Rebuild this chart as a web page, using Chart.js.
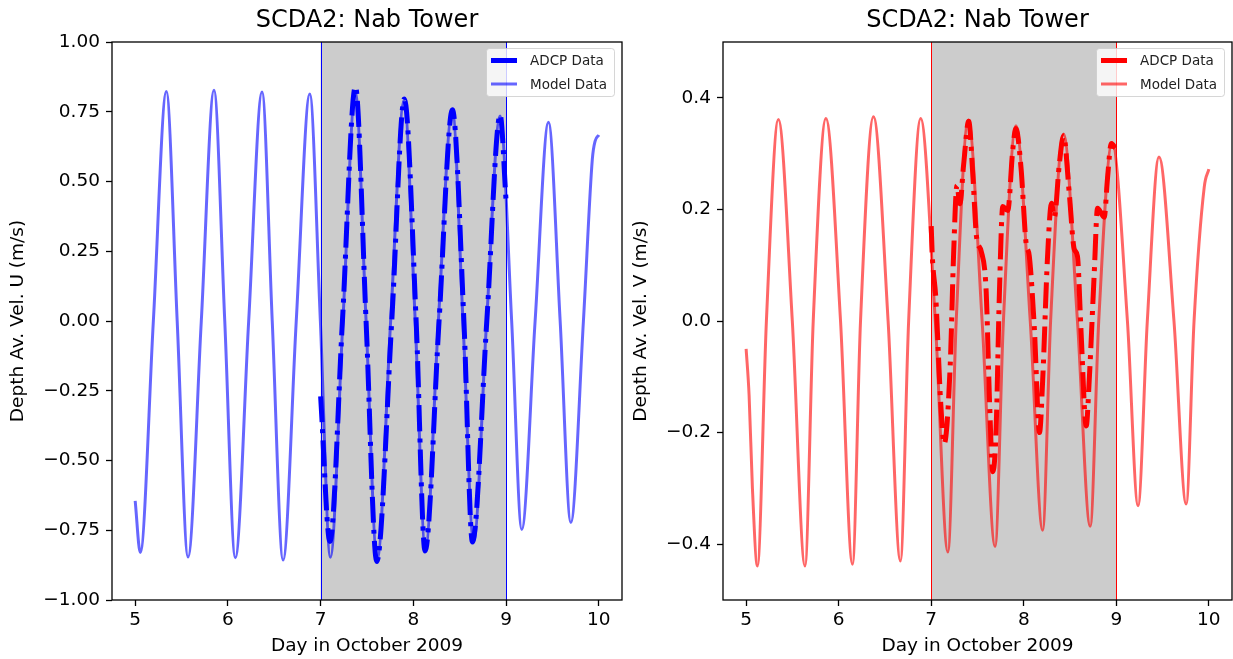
<!DOCTYPE html>
<html>
<head>
<meta charset="utf-8">
<script src="https://cdn.jsdelivr.net/npm/chart.js@4/dist/chart.umd.min.js"></script>
<style>
  html, body { margin: 0; padding: 0; background: #fff; }
  .panel { position: absolute; top: 0; height: 659px; }
  #left { left: 0; width: 625px; }
  #right { left: 625px; width: 608px; }
</style>
</head>
<body>
<div class="panel" id="left"><canvas id="chartU"></canvas></div>
<div class="panel" id="right"><canvas id="chartV"></canvas></div>
<script>
// ── Ticks and the ADCP window ──────────────────────────────────────
const dayTicks = [5, 6, 7, 8, 9, 10];
const velUTicks = [-1, -0.75, -0.5, -0.25, 0, 0.25, 0.5, 0.75, 1];
const velVTicks = [-0.4, -0.2, 0, 0.2, 0.4];
const adcpWindow = [7, 9];

// ── U component ────────────────────────────────────────────────────
const modelDayU = [5.00, 5.055, 5.196, 5.336, 5.453, 5.57, 5.713, 5.85, 5.966, 6.08, 6.224, 6.368, 6.478, 6.595, 6.737, 6.883, 6.997, 7.105, 7.24, 7.375, 7.49, 7.61, 7.755, 7.90, 8.02, 8.13, 8.27, 8.42, 8.535, 8.65, 8.79, 8.935, 9.06, 9.169, 9.313, 9.457, 9.583, 9.698, 9.834, 9.93, 9.96, 10.0];
const modelVelU = [-0.645, -0.83, 0, 0.823, 0, -0.846, 0, 0.827, 0, -0.849, 0, 0.821, 0, -0.857, 0, 0.814, 0, -0.847, 0, 0.82, 0, -0.855, 0, 0.79, 0, -0.815, 0, 0.755, 0, -0.79, 0, 0.735, 0, -0.747, 0, 0.712, 0, -0.722, 0, 0.58, 0.645, 0.667];

const adcpDayU = [7.00, 7.10, 7.235, 7.375, 7.49, 7.605, 7.767, 7.903, 8.03, 8.126, 8.277, 8.421, 8.545, 8.637, 8.792, 8.936, 9.00];
const adcpVelU = [-0.27, -0.79, 0, 0.84, 0, -0.862, 0, 0.796, 0, -0.824, 0, 0.757, 0, -0.792, 0, 0.738, 0.43];

// ── V component ────────────────────────────────────────────────────
const modelDayV = [5.00, 5.032, 5.068, 5.122, 5.219, 5.348, 5.499, 5.636, 5.725, 5.862, 6.02, 6.149, 6.236, 6.376, 6.534, 6.667, 6.756, 6.886, 7.044, 7.18, 7.27, 7.40, 7.55, 7.69, 7.78, 7.915, 8.07, 8.204, 8.29, 8.43, 8.58, 8.718, 8.81, 8.955, 9.12, 9.235, 9.335, 9.461, 9.623, 9.755, 9.84, 9.95, 10.0];
const modelVelV = [-0.05, -0.133, -0.30, -0.439, 0, 0.361, 0, -0.439, 0, 0.363, 0, -0.436, 0, 0.366, 0, -0.430, 0, 0.363, 0, -0.414, 0, 0.36, 0, -0.404, 0, 0.35, 0, -0.375, 0, 0.335, 0, -0.368, 0, 0.32, 0, -0.331, 0, 0.294, 0, -0.328, 0, 0.24, 0.272];

const adcpDayV = [7.00, 7.012, 7.05, 7.075, 7.10, 7.14, 7.206, 7.241, 7.278, 7.31, 7.35, 7.405, 7.45, 7.49, 7.54, 7.594, 7.629, 7.665, 7.70, 7.737, 7.773, 7.827, 7.881, 7.915, 7.97, 8.024, 8.06, 8.114, 8.17, 8.204, 8.257, 8.30, 8.33, 8.384, 8.43, 8.491, 8.545, 8.58, 8.617, 8.675, 8.707, 8.761, 8.797, 8.869, 8.905, 8.945, 8.99];
const adcpVelV = [0.17, 0.115, 0.04, -0.05, -0.14, -0.22, -0.076, 0.116, 0.243, 0.21, 0.28, 0.358, 0.26, 0.15, 0.125, 0.052, -0.139, -0.27, -0.2, 0.052, 0.205, 0.198, 0.307, 0.345, 0.275, 0.141, 0.116, -0.012, -0.2, -0.107, 0.116, 0.211, 0.186, 0.281, 0.332, 0.23, 0.129, 0.116, -0.012, -0.188, -0.107, 0.084, 0.202, 0.186, 0.256, 0.318, 0.31];

// ── Style ──────────────────────────────────────────────────────────
const FAMILY = "'DejaVu Sans', sans-serif";
const FONT_TICK = { family: FAMILY, size: 18.5 };
const FONT_LABEL = { family: FAMILY, size: 18.5 };
const FONT_TITLE = { family: FAMILY, size: 24, weight: 'normal', lineHeight: 1.2 };
const SHADE = '#cccccc';

Chart.defaults.font.family = FAMILY;

const toPoints = (xs, ys) => xs.map((x, i) => ({ x, y: ys[i] }));
const minusSign = s => s.replace('-', '\u2212');

/** Shaded ADCP window, frame and an in-axes legend (matplotlib look). */
const decor = lineColor => ({
    id: 'decor',
    beforeDatasetsDraw(chart) {
        const { ctx, chartArea: a, scales: { x } } = chart;
        const x0 = x.getPixelForValue(adcpWindow[0]);
        const x1 = x.getPixelForValue(adcpWindow[1]);
        ctx.save();
        ctx.fillStyle = SHADE;
        ctx.fillRect(x0, a.top, x1 - x0, a.height);
        ctx.strokeStyle = lineColor;
        ctx.lineWidth = 1;
        [x0, x1].forEach(px => {
            ctx.beginPath();
            ctx.moveTo(Math.round(px) + 0.5, a.top);
            ctx.lineTo(Math.round(px) + 0.5, a.bottom);
            ctx.stroke();
        });
        ctx.restore();
    },
    afterDatasetsDraw(chart) {
        const { ctx, chartArea: a } = chart;
        ctx.save();
        ctx.strokeStyle = '#000';
        ctx.lineWidth = 1.3;
        ctx.strokeRect(a.left, a.top, a.right - a.left, a.bottom - a.top);
        ctx.restore();
    },
    afterDraw(chart) {
        const { ctx, chartArea: a } = chart;
        const w = 128, h = 48;
        const bx = a.right - 8 - w, by = a.top + 6;
        ctx.save();
        ctx.beginPath();
        ctx.roundRect(bx + 0.5, by + 0.5, w, h, 3);
        ctx.fillStyle = 'rgba(255,255,255,0.8)';
        ctx.fill();
        ctx.strokeStyle = 'rgba(204,204,204,0.8)';
        ctx.lineWidth = 1;
        ctx.stroke();
        chart.data.datasets.forEach((ds, i) => {
            const cy = by + 12.5 + i * 23.5;
            ctx.beginPath();
            ctx.moveTo(bx + 5, cy);
            ctx.lineTo(bx + 31, cy);
            ctx.setLineDash([]);
            ctx.strokeStyle = ds.borderColor;
            ctx.lineWidth = ds.borderWidth;
            ctx.stroke();
            ctx.fillStyle = '#222';
            ctx.font = `13.5px ${FAMILY}`;
            ctx.textBaseline = 'middle';
            ctx.fillText(ds.label, bx + 44, cy + 1);
        });
        ctx.restore();
    },
});

function makeChart(canvasId, cfg) {
    return new Chart(document.getElementById(canvasId), {
        type: 'line',
        data: {
            datasets: [{
                label: 'ADCP Data',
                data: toPoints(cfg.adcpDay, cfg.adcpVel),
                borderColor: cfg.adcpColor,
                borderWidth: 5,
                borderDash: [26, 7, 4, 7],
                borderCapStyle: 'butt',
                cubicInterpolationMode: 'monotone',
                pointRadius: 0,
            }, {
                label: 'Model Data',
                data: toPoints(cfg.modelDay, cfg.modelVel),
                borderColor: cfg.modelColor,
                borderWidth: 3,
                cubicInterpolationMode: 'monotone',
                pointRadius: 0,
            }],
        },
        options: {
            responsive: true,
            maintainAspectRatio: false,
            animation: false,
            layout: { padding: { left: 0, right: cfg.padRight, top: 0, bottom: 0 } },
            scales: {
                x: {
                    type: 'linear',
                    min: 4.75,
                    max: 10.25,
                    afterBuildTicks: s => { s.ticks = dayTicks.map(value => ({ value })); },
                    afterFit: s => { s.height = 59; },
                    grid: { drawOnChartArea: false, drawTicks: true, tickLength: 6, tickWidth: 1.3, tickColor: '#000' },
                    border: { display: false },
                    ticks: { color: '#000', font: FONT_TICK, padding: 3, maxRotation: 0, autoSkip: false, callback: v => String(v) },
                    title: { display: true, text: 'Day in October 2009', color: '#000', font: FONT_LABEL, padding: { top: 0, bottom: 2 } },
                },
                y: {
                    type: 'linear',
                    min: cfg.yMin,
                    max: cfg.yMax,
                    afterBuildTicks: s => { s.ticks = cfg.yTicks.map(value => ({ value })); },
                    afterFit: s => { s.width = cfg.yAxisWidth; },
                    grid: { drawOnChartArea: false, drawTicks: true, tickLength: 6, tickWidth: 1.3, tickColor: '#000' },
                    border: { display: false },
                    ticks: { color: '#000', font: FONT_TICK, padding: 6, autoSkip: false, callback: v => minusSign(v.toFixed(cfg.digits)) },
                    title: { display: true, text: cfg.yLabel, color: '#000', font: FONT_LABEL, padding: { top: cfg.yTitlePad, bottom: 0 } },
                },
            },
            plugins: {
                legend: { display: false },
                tooltip: { enabled: false },
                title: {
                    display: true,
                    text: 'SCDA2: Nab Tower',
                    color: '#000',
                    font: FONT_TITLE,
                    fullSize: false,
                    padding: { top: 6, bottom: 7.2 },
                },
            },
        },
        plugins: [decor(cfg.adcpColor)],
    });
}

makeChart('chartU', {
    adcpDay: adcpDayU, adcpVel: adcpVelU, modelDay: modelDayU, modelVel: modelVelU,
    adcpColor: '#0000ff', modelColor: 'rgba(0,0,255,0.6)',
    yMin: -1, yMax: 1, yTicks: velUTicks, digits: 2,
    yLabel: 'Depth Av. Vel. U (m/s)', yAxisWidth: 112, yTitlePad: 7, padRight: 3,
});

makeChart('chartV', {
    adcpDay: adcpDayV, adcpVel: adcpVelV, modelDay: modelDayV, modelVel: modelVelV,
    adcpColor: '#ff0000', modelColor: 'rgba(255,0,0,0.6)',
    yMin: -0.5, yMax: 0.5, yTicks: velVTicks, digits: 1,
    yLabel: 'Depth Av. Vel. V (m/s)', yAxisWidth: 98, yTitlePad: 5, padRight: 1,
});
</script>
</body>
</html>
